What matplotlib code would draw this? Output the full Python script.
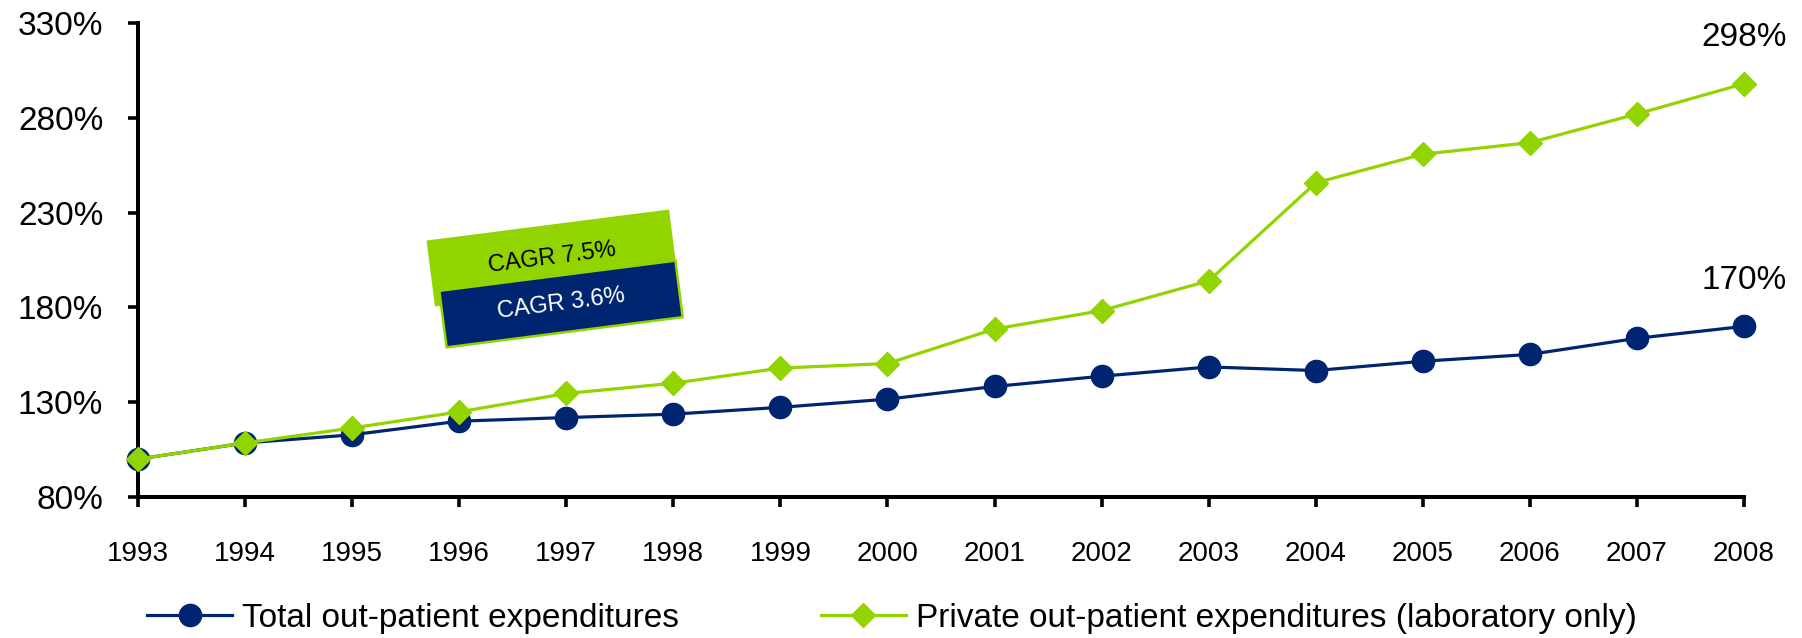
import numpy as np
import matplotlib
matplotlib.use("Agg")
import matplotlib.pyplot as plt
import matplotlib.patches as patches
from matplotlib.transforms import Affine2D
from matplotlib.ticker import FuncFormatter

plt.rcParams['font.family'] = ['Liberation Sans', 'DejaVu Sans']

years = list(range(1993, 2009))
total_exp = [100, 108.5, 112.8, 120, 121.9, 123.7, 127.3, 131.6,
             138.3, 143.7, 148.6, 146.7, 151.6, 155.2, 163.7, 170]
private_lab = [100, 108.5, 116.4, 124.9, 134.6, 140, 148, 150.4,
               168.6, 178.3, 194, 245.7, 260.8, 266.9, 282, 298]
y_ticks = [80, 130, 180, 230, 280, 330]
series_names = ['Total out-patient expenditures',
                'Private out-patient expenditures (laboratory only)']
cagr_labels = ['CAGR 7.5%', 'CAGR 3.6%']

NAVY = '#002570'
GREEN = '#92D400'

W, H = 1802, 638
fig = plt.figure(figsize=(W / 100, H / 100), dpi=100)
ax = fig.add_axes([138 / W, 1 - 497 / H, (1744 - 138) / W, (497 - 23) / H])

l1, = ax.plot(years, total_exp, color=NAVY, lw=2.3, marker='o', ms=16,
              mec=NAVY, mfc=NAVY, zorder=3, clip_on=False)
l2, = ax.plot(years, private_lab, color=GREEN, lw=2.3, marker='D', ms=11.8,
              mec=GREEN, mfc=GREEN, zorder=4, clip_on=False)

ax.set_xlim(years[0], years[-1])
ax.set_ylim(y_ticks[0], y_ticks[-1])
ax.set_xticks(years)
ax.set_yticks(y_ticks)
ax.yaxis.set_major_formatter(FuncFormatter(lambda v, p: f'{v:.0f}%'))
ax.tick_params(axis='y', direction='out', length=7, width=2.6, labelsize=24, pad=18)
ax.tick_params(axis='x', direction='out', length=7, width=2.6, labelsize=20, pad=25)
for s in ['top', 'right']:
    ax.spines[s].set_visible(False)
for s in ['left', 'bottom']:
    ax.spines[s].set_linewidth(2.9)
    ax.spines[s].set_color('black')

# end values
for vals in (private_lab, total_exp):
    ax.annotate(f'{vals[-1]:.0f}%', (years[-1], vals[-1]), xytext=(0, 33),
                textcoords='offset points', ha='center', va='center',
                fontsize=24, annotation_clip=False)

# tilted CAGR boxes (pixel coordinates)
def tilted_box(cx, cy, w, h, face, edge, label, tcolor, angle=7.3):
    cyd = H - cy
    rect = patches.Rectangle((cx - w / 2, cyd - h / 2), w, h, facecolor=face,
                             edgecolor=edge, lw=1.8,
                             transform=Affine2D().rotate_deg_around(cx, cyd, angle))
    fig.add_artist(rect)
    fig.text(cx / W, cyd / H, label, color=tcolor, fontsize=17, rotation=angle,
             ha='center', va='center', rotation_mode='anchor')

tilted_box(552, 258, 242, 64, GREEN, GREEN, cagr_labels[0], 'black')
tilted_box(561, 304, 238, 57, NAVY, GREEN, cagr_labels[1], 'white')

leg = fig.legend([l1, l2], series_names, loc='center left',
                 bbox_to_anchor=(147 / W, 1 - 618 / H), ncol=2, frameon=False,
                 borderpad=0, borderaxespad=0, handlelength=2.55,
                 handletextpad=0.3, columnspacing=4.25,
                 prop={'size': 24})

fig.savefig('out.png', dpi=100)
